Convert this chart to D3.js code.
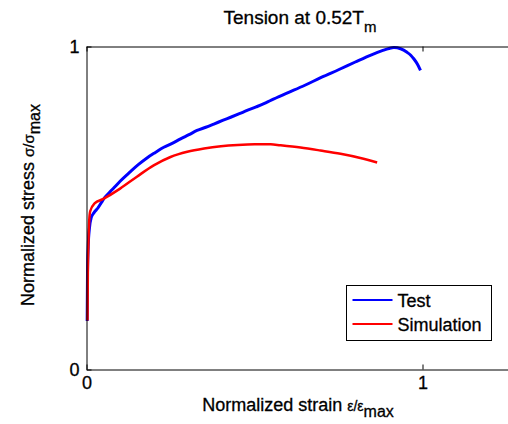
<!DOCTYPE html>
<html>
<head>
<meta charset="utf-8">
<script src="https://cdn.jsdelivr.net/npm/d3@7"></script>
<style>
  body { margin: 0; background: #fff; }
  text { font-family: "Liberation Sans", Arial, sans-serif; fill: #000; stroke: #000; stroke-width: 0.3px; }
</style>
</head>
<body>
<svg id="chart" width="508" height="424"></svg>
<script>
// normalized strain / stress
const testStrain = [0.002, 0.003, 0.005, 0.009, 0.014, 0.022, 0.034, 0.045, 0.054, 0.07, 0.083, 0.1, 0.13, 0.155, 0.18, 0.205, 0.23, 0.255, 0.28, 0.305, 0.329, 0.355, 0.379, 0.405, 0.429, 0.455, 0.478, 0.505, 0.528, 0.55, 0.6, 0.65, 0.7, 0.75, 0.8, 0.85, 0.88, 0.9, 0.915, 0.935, 0.954, 0.965, 0.974, 0.985, 0.994];
const testStress = [0.15, 0.30, 0.38, 0.44, 0.47, 0.485, 0.50, 0.518, 0.532, 0.55, 0.564, 0.583, 0.612, 0.635, 0.655, 0.672, 0.688, 0.70, 0.714, 0.727, 0.74, 0.75, 0.76, 0.771, 0.781, 0.792, 0.802, 0.813, 0.823, 0.834, 0.857, 0.88, 0.905, 0.928, 0.952, 0.975, 0.987, 0.994, 0.997, 0.993, 0.982, 0.973, 0.962, 0.945, 0.926];

const simStrain = [0.003, 0.004, 0.006, 0.008, 0.011, 0.024, 0.05, 0.1, 0.15, 0.2, 0.25, 0.3, 0.35, 0.4, 0.45, 0.5, 0.548, 0.577, 0.637, 0.696, 0.756, 0.815, 0.865];
const simStress = [0.152, 0.30, 0.40, 0.46, 0.49, 0.514, 0.528, 0.56, 0.597, 0.632, 0.658, 0.674, 0.684, 0.691, 0.695, 0.697, 0.697, 0.694, 0.687, 0.678, 0.668, 0.655, 0.641];

const xTicks = [0, 1];
const yTicks = [0, 1];
const seriesNames = ['Test', 'Simulation'];
const seriesColors = ['#0000ff', '#ff0000'];

const svg = d3.select('#chart');
const cs = {
  left: 86.5,
  top: 46.5,
  bottom: 369.5,
  unit: 336,
  font: 18,
};

const x = d3.scaleLinear().domain([0, 1.26]).range([cs.left, cs.left + cs.unit * 1.26]);
const y = d3.scaleLinear().domain([0, 1]).range([cs.bottom, cs.top]);

const line = d3.line()
  .x(d => x(d[0]))
  .y(d => y(d[1]))
  .curve(d3.curveMonotoneX);

const series = [
  d3.zip(testStrain, testStress),
  d3.zip(simStrain, simStress),
];
const widths = [3, 2.5];

// curves
series.forEach((pts, i) => {
  svg.append('path')
    .datum(pts)
    .attr('fill', 'none')
    .attr('stroke', seriesColors[i])
    .attr('stroke-width', widths[i])
    .attr('stroke-linejoin', 'round')
    .attr('d', line);
});

// axes (matlab style, ticks inside)
const styleAxis = (g) => {
  g.selectAll('.domain').attr('stroke', '#000');
  g.selectAll('.tick line').attr('stroke', '#000');
  g.selectAll('.tick text')
    .style('font-family', '"Liberation Sans", Arial, sans-serif')
    .style('font-size', '18px')
    .attr('fill', '#000');
};

svg.append('g')
  .attr('transform', `translate(0,${cs.bottom})`)
  .call(d3.axisBottom(x).tickValues(xTicks).tickFormat(d3.format('d')).tickSize(-5).tickSizeOuter(0).tickPadding(7))
  .call(styleAxis);

svg.append('g')
  .attr('transform', `translate(0,${cs.top})`)
  .call(d3.axisTop(x).tickValues(xTicks).tickFormat('').tickSize(-5).tickSizeOuter(0))
  .call(styleAxis);

svg.append('g')
  .attr('transform', `translate(${cs.left},0)`)
  .call(d3.axisLeft(y).tickValues(yTicks).tickFormat(d3.format('d')).tickSize(-5).tickSizeOuter(0).tickPadding(7))
  .call(styleAxis);

// title
const title = svg.append('text')
  .attr('x', 300)
  .attr('y', 24)
  .attr('text-anchor', 'middle')
  .style('font-size', '19px');
title.append('tspan').text('Tension at 0.52T');
title.append('tspan').attr('dy', 8).style('font-size', '15px').text('m');

// x label
const xLabel = svg.append('text')
  .attr('x', 298)
  .attr('y', 411)
  .attr('text-anchor', 'middle')
  .style('font-size', `${cs.font}px`);
xLabel.append('tspan').text('Normalized strain ');
xLabel.append('tspan').style('font-size', '14px').text('ε/ε');
xLabel.append('tspan').attr('dy', 6).style('font-size', '16px').text('max');

// y label
const yLabel = svg.append('text')
  .attr('transform', 'translate(34,205) rotate(-90)')
  .attr('text-anchor', 'middle')
  .style('font-size', `${cs.font}px`);
yLabel.append('tspan').text('Normalized stress ');
yLabel.append('tspan').style('font-size', '15px').text('σ/σ');
yLabel.append('tspan').attr('dy', 6).style('font-size', '16px').text('max');

// legend
const legend = svg.append('g').attr('transform', 'translate(346.5,285.5)');
legend.append('rect')
  .attr('width', 145)
  .attr('height', 55)
  .attr('fill', '#fff')
  .attr('stroke', '#000');
seriesNames.forEach((name, i) => {
  const ly = 14.5 + i * 24;
  legend.append('line')
    .attr('x1', 6).attr('x2', 46)
    .attr('y1', ly).attr('y2', ly)
    .attr('stroke', seriesColors[i])
    .attr('stroke-width', 2);
  legend.append('text')
    .attr('x', 51)
    .attr('y', ly + 6.5)
    .style('font-size', '18px')
    .text(name);
});
</script>
</body>
</html>
